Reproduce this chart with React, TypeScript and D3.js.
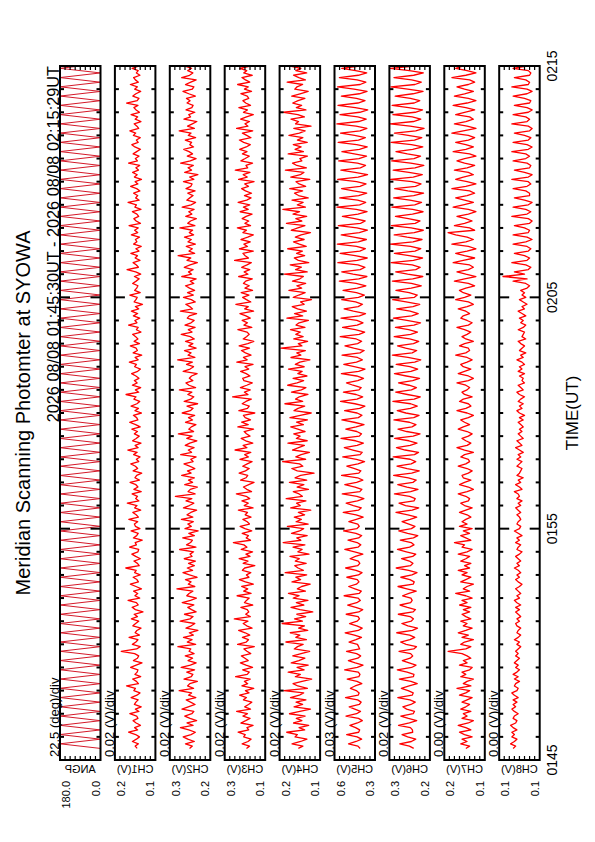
import React from 'react';
import * as d3 from 'd3';

// panel labels, scale texts
const PANEL_NAMES = ['ANGP', 'CH1(V)', 'CH2(V)', 'CH3(V)', 'CH4(V)', 'CH5(V)', 'CH6(V)', 'CH7(V)', 'CH8(V)'];
const DIV_TEXT = ['22.5 (deg)/div', '0.02 (V)/div', '0.02 (V)/div', '0.02 (V)/div', '0.02 (V)/div', '0.03 (V)/div', '0.02 (V)/div', '0.00 (V)/div', '0.00 (V)/div'];
const TOP_LABELS = ['180.0', '0.2', '0.3', '0.3', '0.2', '0.6', '0.3', '0.2', '0.1'];
const BOTTOM_LABELS = ['0.0', '0.1', '0.2', '0.1', '0.1', '0.3', '0.2', '0.1', '0.1'];
// ANGP in deg, channels in mV
const DOMAIN_LO = [0, 70, 170, 140, 80, 340, 170, 140, 100];
const DOMAIN_HI = [180, 230, 330, 300, 240, 580, 330, 172, 132];
const TIME_LABELS = ['0145', '0155', '0205', '0215'];
const LABEL_MINUTES = [0, 10, 20, 30];

const START_UTC = Date.UTC(2026, 7, 8, 1, 45, 30);
const AXIS_FROM = Date.UTC(2026, 7, 8, 1, 45, 0);
const AXIS_TO = Date.UTC(2026, 7, 8, 2, 15, 0);
const ANGLE_STEP_SEC = 12;
const SAMPLE_SEC = 6;

// scan angle turning points (deg)
const ANGP = [
  0, 180, 0, 180, 0, 180, 0, 180, 0, 180, 0, 180, 0, 180, 0, 180, 0, 180, 0, 180,
  0, 180, 0, 180, 0, 180, 0, 180, 0, 180, 0, 180, 0, 180, 0, 180, 0, 180, 0, 180,
  0, 180, 0, 180, 0, 180, 0, 180, 0, 180, 0, 180, 0, 180, 0, 180, 0, 180, 0, 180,
  0, 180, 0, 180, 0, 180, 0, 180, 0, 180, 0, 180, 0, 180, 0, 180, 0, 180, 0, 180,
  0, 180, 0, 180, 0, 180, 0, 180, 0, 180, 0, 180, 0, 180, 0, 180, 0, 180, 0, 180,
  0, 180, 0, 180, 0, 180, 0, 180, 0, 180, 0, 180, 0, 180, 0, 180, 0, 180, 0, 180,
  0, 180, 0, 180, 0, 180, 0, 180, 0, 180, 0, 180, 0, 180, 0, 180, 0, 180, 0, 180,
  0, 180, 0, 180, 0, 180, 0, 180, 0, 180, 0,
];

// channel samples, mV
const CH1 = [
  142,150,137,161,145,133,148,176,140,152,129,146,158,139,144,171,135,149,126,153,
  147,138,166,143,131,155,149,184,137,145,160,128,151,142,139,168,146,123,157,141,
  136,152,205,144,130,161,147,139,174,133,150,143,127,159,148,136,165,141,154,119,
  149,162,138,145,178,132,151,140,156,125,147,169,137,143,158,130,152,146,187,134,
  141,155,129,148,163,139,136,172,145,150,122,157,144,138,166,131,149,153,140,175,
  137,146,159,128,152,143,181,135,148,141,162,126,155,139,147,170,133,151,144,124,
  158,140,149,167,136,145,131,156,142,179,138,150,127,160,146,134,153,141,163,130,
  148,172,139,144,157,125,151,137,166,143,132,155,147,186,136,149,128,161,142,153,
  135,147,164,140,129,152,145,173,138,150,124,158,141,146,169,133,154,139,148,160,
  127,145,138,176,143,151,132,157,140,165,136,149,121,154,147,142,171,130,152,144,
  139,160,146,134,153,128,148,182,137,145,158,131,150,141,167,135,147,126,156,143,
  149,133,165,140,152,138,174,129,146,155,136,143,161,127,151,145,178,134,148,140,
  156,131,144,168,139,150,125,153,142,160,137,147,132,176,141,149,135,158,144,129,
  151,163,138,145,130,157,148,171,136,143,154,127,150,140,166,133,146,155,139,184,
  142,135,159,147,128,152,141,169,137,149,156,131,145,138,162,134,150,143,157,140,
];

const CH2 = [
  252,241,268,233,259,277,246,229,255,288,238,262,224,250,271,243,235,282,257,230,
  248,265,227,256,244,293,236,260,251,221,274,245,239,263,232,285,249,226,258,240,
  269,234,254,247,298,228,261,242,276,237,253,219,266,245,231,289,250,238,272,226,
  244,259,235,281,248,225,263,254,239,302,231,257,246,268,222,252,278,240,261,233,
  256,229,273,242,250,236,291,227,264,248,241,279,233,255,218,270,245,259,237,284,
  239,262,247,224,276,253,235,266,243,308,230,258,249,221,271,240,256,233,283,246,
  260,231,252,274,238,247,226,287,244,257,234,269,251,223,263,242,296,236,255,245,
  227,268,240,256,232,281,249,238,262,220,273,247,235,259,243,292,228,254,266,239,
  253,244,222,277,250,236,264,241,299,231,258,246,272,226,255,239,268,233,249,285,
  242,257,230,270,246,234,261,253,224,288,240,251,267,229,245,276,237,260,232,252,
  268,235,249,226,283,244,256,238,273,250,221,262,247,297,232,254,241,265,229,258,
  245,272,236,253,240,290,231,259,248,225,267,243,255,234,281,246,228,263,251,238,
  259,230,266,247,242,276,235,252,219,271,244,258,237,287,249,226,261,240,254,275,
  236,251,244,269,228,257,246,293,233,260,241,223,274,248,255,231,266,243,238,262,
  250,264,229,255,278,241,235,268,247,226,283,252,239,259,244,272,230,256,241,249,
];

const CH3 = [
  214,202,231,208,196,225,219,247,205,212,188,236,217,200,228,210,253,198,221,206,
  193,226,214,241,204,218,185,232,209,222,199,257,211,203,229,190,216,238,207,220,
  234,197,212,224,183,249,215,206,230,201,219,245,192,213,227,208,262,199,217,205,
  211,236,189,222,214,203,251,196,225,209,233,187,218,242,204,214,197,230,221,181,
  227,208,243,200,216,190,235,212,224,266,198,215,206,231,193,220,239,202,211,228,
  196,219,210,246,188,223,207,232,201,215,254,194,213,226,205,184,237,216,209,243,
  218,203,229,211,192,240,206,221,197,259,212,227,189,217,235,200,214,223,186,248,
  207,233,198,219,226,181,244,210,203,231,216,195,269,208,222,199,238,213,191,224,
  229,200,215,237,205,220,188,252,211,226,196,218,234,202,243,209,185,227,214,203,
  212,248,193,224,210,231,199,216,240,186,221,207,256,197,214,229,204,235,190,220,
  203,226,217,191,245,208,223,201,233,212,195,261,206,219,228,187,242,210,224,199,
  236,209,187,228,214,250,198,220,205,231,215,192,239,207,226,201,247,213,196,222,
  194,218,233,206,221,184,245,211,227,200,258,209,216,190,236,219,203,230,212,241,
  215,199,225,242,196,213,230,189,253,208,220,202,237,214,187,226,210,244,198,217,
  228,205,211,236,194,222,207,249,201,218,232,191,225,213,240,199,216,206,234,210,
];

const CH4 = [
  166,148,191,157,132,179,170,212,141,163,125,185,152,174,139,201,160,118,183,149,
  175,136,197,162,145,223,130,168,187,151,113,178,158,206,143,171,127,194,164,140,
  188,155,121,182,169,147,215,134,176,160,198,129,165,142,230,150,181,137,172,109,
  159,195,144,174,128,186,163,205,138,170,153,119,191,157,176,133,218,146,167,180,
  135,178,162,199,124,168,151,187,140,226,156,172,131,193,161,145,209,127,175,154,
  182,141,166,117,196,158,173,136,214,150,163,186,126,171,144,201,133,179,157,104,
  170,192,148,161,228,137,176,155,122,189,165,142,207,131,174,159,184,139,168,196,
  146,173,130,199,158,115,183,167,141,219,149,177,162,128,193,154,136,208,171,145,
  187,132,168,151,205,143,178,160,120,195,156,172,138,235,152,166,129,184,147,176,
  158,197,140,175,163,126,211,149,181,134,169,190,143,157,114,186,164,139,203,153,
  172,137,189,160,146,221,131,177,154,198,125,166,182,141,173,150,208,135,162,185,
  143,178,155,118,194,168,140,213,152,176,133,187,161,227,138,170,147,191,127,165,
  181,149,200,137,163,175,121,196,158,144,217,134,172,189,152,160,130,206,146,179,
  155,186,131,170,148,203,162,139,184,116,177,165,195,142,168,224,136,174,153,188,
  167,140,192,159,127,180,171,149,210,138,164,185,133,176,156,199,145,169,183,150,
];

const CH5 = [
  428,441,497,452,419,446,508,437,431,455,489,444,415,438,512,449,426,460,493,433,
  422,443,515,440,434,451,486,458,418,447,505,436,429,439,520,445,411,457,498,442,
  425,449,509,431,437,444,494,453,420,462,517,439,416,448,491,446,432,440,511,436,
  413,454,502,448,427,441,523,434,421,459,496,450,435,445,507,438,417,452,514,443,
  430,439,488,456,412,461,519,441,424,446,500,437,419,453,526,448,433,442,495,451,
  410,452,528,438,421,468,511,444,406,447,534,430,418,458,519,449,412,443,538,436,
  424,461,507,441,402,450,531,428,416,471,522,446,409,455,541,433,420,448,513,452,
  405,464,536,439,417,446,520,431,400,459,544,447,413,452,527,435,422,470,509,442,
  408,449,539,437,399,463,525,450,415,444,535,429,404,466,518,443,419,451,546,434,
  401,457,532,446,411,447,541,432,396,468,523,440,414,455,537,438,403,450,529,445,
  394,452,551,436,388,470,537,428,399,441,560,445,386,458,546,430,397,449,563,439,
  391,465,540,433,385,447,557,426,398,460,533,441,387,451,565,431,395,443,549,437,
  389,467,538,429,393,449,561,440,384,459,542,427,396,444,555,435,390,463,536,432,
  386,448,558,438,397,461,544,429,388,452,566,436,392,442,547,430,383,457,559,441,
  399,450,539,433,387,464,562,428,394,446,551,439,389,455,537,431,396,448,564,435,
];

const CH6 = [
  234,251,289,243,226,258,280,238,239,247,294,251,222,255,285,236,231,262,277,245,
  228,249,297,240,236,256,283,252,220,245,291,235,233,260,299,242,225,252,279,248,
  238,246,292,234,223,264,286,249,230,250,301,239,219,257,281,244,235,248,295,237,
  227,259,288,246,240,245,278,253,224,261,296,236,232,249,285,241,221,254,303,247,
  237,251,282,238,226,263,298,250,233,244,287,235,218,258,293,243,229,253,280,248,
  222,257,304,240,214,266,292,233,228,250,310,246,217,261,297,237,224,255,313,242,
  212,260,300,244,226,248,315,231,215,268,302,248,221,253,309,236,209,262,296,241,
  225,251,312,234,213,265,299,247,220,246,316,232,208,259,305,243,223,252,294,238,
  211,263,310,245,218,249,303,230,206,257,318,240,222,266,298,235,214,250,311,246,
  219,254,306,233,207,261,314,242,216,248,301,237,210,264,317,231,220,252,304,244,
  204,243,318,238,198,258,305,226,208,240,323,235,199,252,310,229,206,246,326,237,
  201,260,311,232,196,244,322,228,209,255,306,239,197,238,320,230,203,249,313,234,
  195,257,309,227,205,241,325,236,200,253,315,229,194,246,321,233,207,259,304,238,
  198,243,323,231,202,256,310,226,193,248,327,235,206,240,316,228,199,254,319,232,
  210,247,307,237,197,258,324,229,204,242,312,234,196,251,326,230,201,245,314,236,
];

const CH7 = [
  155,152,159,154,158,150,156,160,151,155,161,153,149,158,154,157,151,159,155,152,
  158,154,150,160,155,152,162,151,157,154,149,159,155,158,152,150,160,154,157,151,
  154,158,169,155,151,159,156,149,158,153,161,155,150,157,154,159,151,155,158,152,
  157,151,160,154,158,150,155,163,152,157,154,149,159,155,151,158,154,161,152,156,
  151,159,155,152,161,154,150,158,156,164,151,155,159,152,157,150,160,154,158,155,
  151,154,160,155,150,156,159,153,152,155,161,154,149,153,160,156,151,157,158,153,
  150,154,161,155,152,153,159,156,149,156,162,154,151,155,158,153,150,154,161,157,
  152,156,159,153,149,154,162,155,151,153,160,157,150,156,158,154,152,155,162,153,
  149,153,161,156,151,157,159,154,150,154,163,155,152,153,160,156,149,155,158,154,
  151,156,162,153,150,154,159,157,152,155,161,154,149,153,163,156,151,157,160,155,
  148,153,164,156,147,155,162,153,149,152,165,157,148,156,163,154,147,153,166,155,
  149,154,163,169,148,152,164,156,150,155,162,153,147,153,165,157,149,156,163,154,
  148,152,166,155,147,154,163,157,149,153,164,154,148,156,162,156,147,152,165,155,
  149,155,163,153,148,153,166,157,147,154,164,155,149,152,163,156,148,155,165,154,
  147,153,164,156,149,156,162,153,148,152,166,155,147,154,163,157,149,153,165,154,
];

const CH8 = [
  121,119,123,120,118,122,120,122,118,121,123,119,118,121,120,117,120,122,119,121,
  118,121,117,120,122,118,117,120,119,116,120,117,121,118,116,119,117,120,118,116,
  119,117,119,117,115,118,116,120,117,115,118,117,115,118,119,116,118,115,117,119,
  116,119,115,118,120,116,118,115,117,119,116,114,117,119,116,118,115,117,120,116,
  118,115,117,119,116,114,118,117,115,119,116,118,114,117,120,116,115,118,117,115,
  116,118,115,117,119,115,117,114,118,116,117,120,114,116,119,115,117,113,118,116,
  115,114,118,116,114,118,115,117,113,116,119,114,116,118,113,115,117,114,116,113,
  115,117,113,116,112,116,118,114,116,113,117,115,112,116,118,113,115,117,112,114,
  113,116,112,117,114,116,112,114,118,113,115,111,116,114,112,115,117,111,114,113,
  112,117,113,111,115,113,116,111,114,117,112,114,110,113,116,111,114,112,115,110,
  108,111,121,110,129,112,120,109,107,111,122,110,108,112,120,109,107,110,121,111,
  106,110,121,109,108,112,120,108,106,109,122,110,107,111,121,109,106,112,120,108,
  108,111,121,110,107,109,122,109,106,112,120,108,107,110,121,111,108,111,122,109,
  106,110,121,109,107,112,120,108,106,109,122,110,108,111,121,109,106,110,120,108,
  107,112,121,110,106,110,122,109,108,111,120,108,107,109,121,110,106,112,122,109,
];

const SERIES = [ANGP, CH1, CH2, CH3, CH4, CH5, CH6, CH7, CH8];

// page layout (the plot is printed rotated, time runs bottom -> top)
const W = 595;
const H = 842;
const TOP = 66;
const BOTTOM = 760;
const FIRST_LEFT = 60;
const PITCH = 54.9;
const PANEL_W = 40.5;
const FONT = '"Liberation Sans", Arial, Helvetica, sans-serif';

function VText({ x, y, anchor = 'middle', size = 11, children }: any) {
  return (
    <text transform={`translate(${x},${y}) rotate(-90)`} textAnchor={anchor} fontSize={size}
      fontFamily={FONT} fill="#000">{children}</text>
  );
}

export default function App() {
  const y = d3.scaleUtc().domain([new Date(AXIS_FROM), new Date(AXIS_TO)]).range([BOTTOM, TOP]);
  const minuteTicks = y.ticks(d3.utcMinute.every(1) as any);
  const labelTimes = LABEL_MINUTES.map((m) => new Date(AXIS_FROM + m * 60000));

  return (
    <svg width={W} height={H} style={{ position: 'absolute', left: 0, top: 0, background: '#fff' }}>
      <rect width={W} height={H} fill="#fff" />
      <defs>
        {SERIES.map((_, i) => {
          const left = FIRST_LEFT + i * PITCH;
          return (
            <clipPath id={`clip${i}`} key={i}>
              <rect x={left} y={TOP} width={PANEL_W} height={BOTTOM - TOP} />
            </clipPath>
          );
        })}
      </defs>

      <VText x={30} y={(TOP + BOTTOM) / 2} size={20}>Meridian Scanning Photomter at SYOWA</VText>
      <VText x={59} y={TOP} anchor="end" size={16.3}>2026 08/08 01:45:30UT - 2026 08/08 02:15:29UT</VText>

      {SERIES.map((vals, i) => {
        const left = FIRST_LEFT + i * PITCH;
        const right = left + PANEL_W;
        const x = d3.scaleLinear().domain([DOMAIN_LO[i], DOMAIN_HI[i]]).range([right, left]);
        const step = i === 0 ? ANGLE_STEP_SEC : SAMPLE_SEC;
        const line = d3.line<number>()
          .x((v) => x(v))
          .y((_, k) => y(new Date(START_UTC + k * step * 1000)));
        const divTicks = d3.range(1, 8).map((k) => DOMAIN_LO[i] + ((DOMAIN_HI[i] - DOMAIN_LO[i]) * k) / 8);
        return (
          <g key={i}>
            <path d={line(vals) || ''} fill="none" stroke={i === 0 ? '#d41a2a' : '#ff0000'}
              strokeWidth={i === 0 ? 1 : 1.3} strokeLinejoin="round" clipPath={`url(#clip${i})`} />
            <rect x={left} y={TOP} width={PANEL_W} height={BOTTOM - TOP} fill="none" stroke="#000" strokeWidth={2} />
            {minuteTicks.map((t, k) => {
              const m = t.getUTCMinutes();
              const len = m % 10 === 5 ? 10 : 4;
              const ty = y(t);
              return (
                <g key={k} stroke="#000" strokeWidth={2}>
                  <line x1={left} x2={left + len} y1={ty} y2={ty} />
                  <line x1={right} x2={right - len} y1={ty} y2={ty} />
                </g>
              );
            })}
            {divTicks.map((v, k) => (
              <g key={k} stroke="#000" strokeWidth={1.2}>
                <line x1={x(v)} x2={x(v)} y1={BOTTOM} y2={BOTTOM - 4} />
                <line x1={x(v)} x2={x(v)} y1={TOP} y2={TOP + 4} />
              </g>
            ))}
            <VText x={left - 1} y={757} anchor="start" size={13}>{DIV_TEXT[i]}</VText>
            <text transform={`translate(${(left + right) / 2},773) scale(-1,1)`} textAnchor="middle"
              fontSize={11} fontFamily={FONT} fill="#000">{PANEL_NAMES[i]}</text>
            <VText x={left + 10} y={781} anchor="end" size={11}>{TOP_LABELS[i]}</VText>
            <VText x={right - 1} y={781} anchor="end" size={11}>{BOTTOM_LABELS[i]}</VText>
          </g>
        );
      })}

      {labelTimes.map((t, k) => (
        <VText key={k} x={557} y={y(t)} size={14}>{TIME_LABELS[k]}</VText>
      ))}
      <VText x={578} y={(TOP + BOTTOM) / 2} size={17}>TIME(UT)</VText>
    </svg>
  );
}
